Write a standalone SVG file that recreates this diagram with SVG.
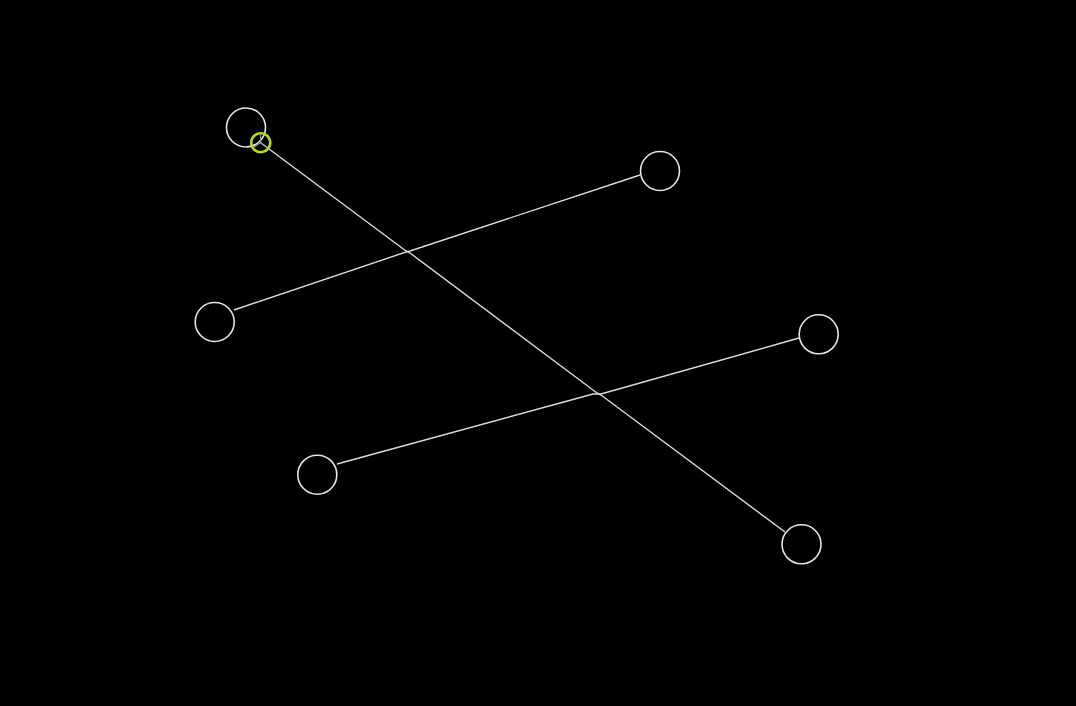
<svg xmlns="http://www.w3.org/2000/svg" width="1076" height="706" viewBox="0 0 1076 706">
<style>
.node{fill:#000;stroke:#e6e6e6;stroke-width:1.6}
.edge{fill:none;stroke:#dcdcdc;stroke-width:1.4}
.spoke{fill:none;stroke:#9a9a9a;stroke-width:1.2}
.sel{fill:none;stroke:#b6d531;stroke-width:2.6}
</style>
<rect width="1076" height="706" fill="#000"/>
<g id="connectors">
<polyline class="edge" points="261,143 406,251 410,253 597,393 601,395 785,532"/>
<polyline class="edge" points="234,310 406,252 410,251 640,175"/>
<polyline class="edge" points="337,464 593,394 601,394 799,338"/>
</g>
<g id="node1"><circle class="node" cx="246" cy="127.5" r="19.5"/></g>
<g id="node2"><circle class="node" cx="660" cy="171" r="19.5"/></g>
<g id="node3"><circle class="node" cx="214.7" cy="322" r="19.5"/></g>
<g id="node4"><circle class="node" cx="317.3" cy="474.7" r="19.5"/></g>
<g id="node5"><circle class="node" cx="818.7" cy="334.3" r="19.5"/></g>
<g id="node6"><circle class="node" cx="801.5" cy="544.3" r="19.5"/></g>
<g id="handle">
<path class="spoke" d="M260.7,142.7 V135 M260.7,142.7 L254,147 M260.7,142.7 L267,147.5"/>
<circle class="sel" cx="260.7" cy="142.7" r="9.5"/>
</g>
</svg>
